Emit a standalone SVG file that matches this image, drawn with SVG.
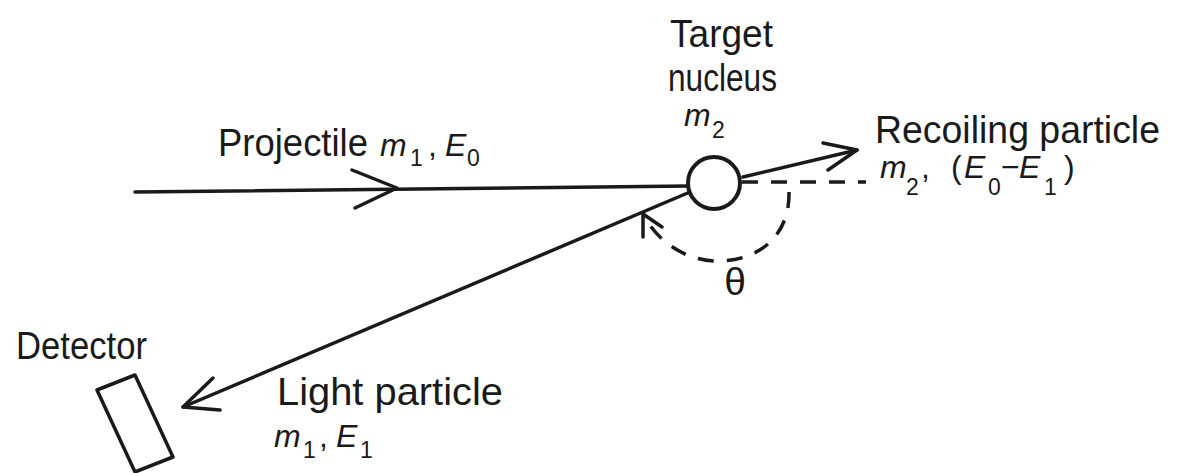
<svg xmlns="http://www.w3.org/2000/svg" width="1180" height="473" viewBox="0 0 1180 473">
<style>
.t{font-family:"Liberation Sans",Arial,sans-serif;font-size:39px;fill:#1a1a1a}
.m{font-family:"Liberation Sans",Arial,sans-serif;font-size:32px;font-style:italic;fill:#1a1a1a}
.s{font-family:"Liberation Sans",Arial,sans-serif;font-size:23px;font-style:normal;fill:#1a1a1a}
.ln{stroke:#1a1a1a;stroke-width:3.5;fill:none;stroke-linecap:round;stroke-linejoin:round}
.dash{stroke:#1a1a1a;stroke-width:3.5;fill:none;stroke-dasharray:16 13}
</style>
<rect width="1180" height="473" fill="#ffffff"/>
<g id="connectors">
  <path class="ln" d="M135 192 L688 186"/>
  <path class="ln" d="M352 170 L397 188 L355 208"/>
  <path class="ln" d="M690 192 L183 407"/>
  <path class="ln" d="M213 378 L183 407 L220 410"/>
  <path class="ln" d="M743 177 L857 150"/>
  <path class="ln" d="M823 143 L857 150 L828 170"/>
  <path class="dash" d="M742 182 L866 182"/>
  <path class="dash" d="M789 192 C790 235 760 260 720 261 C690 262 660 245 644 216"/>
  <path class="ln" d="M662 227 L643 214 L643 237"/>
</g>
<g id="target">
  <circle cx="714" cy="183" r="26" fill="#ffffff" stroke="#1a1a1a" stroke-width="4"/>
  <text class="t" x="670" y="47" textLength="103" lengthAdjust="spacingAndGlyphs">Target</text>
  <text class="t" x="668" y="91" textLength="109" lengthAdjust="spacingAndGlyphs">nucleus</text>
  <text class="m" x="684" y="126">m<tspan class="s" x="712" y="138">2</tspan></text>
</g>
<g id="projectile">
  <text class="t" x="218" y="156" textLength="150" lengthAdjust="spacingAndGlyphs">Projectile</text>
  <text class="m" x="380" y="156">m<tspan class="s" x="410" y="166">1</tspan><tspan x="428" y="156" font-style="normal">,</tspan><tspan x="445" y="156">E</tspan><tspan class="s" x="467" y="166">0</tspan></text>
</g>
<g id="recoil">
  <text class="t" x="875" y="143" textLength="285" lengthAdjust="spacingAndGlyphs">Recoiling particle</text>
  <text class="m" x="880" y="178">m<tspan class="s" x="906" y="195">2</tspan><tspan x="921" y="178" font-style="normal">,</tspan><tspan x="951" y="178" font-style="normal">(</tspan><tspan x="964" y="178">E</tspan><tspan class="s" x="988" y="195">0</tspan><tspan x="1001" y="178" font-style="normal">−</tspan><tspan x="1019" y="178">E</tspan><tspan class="s" x="1044" y="195">1</tspan><tspan x="1064" y="178" font-style="normal">)</tspan></text>
</g>
<g id="angle">
  <text class="t" x="735" y="295" text-anchor="middle" font-size="32">θ</text>
</g>
<g id="detector">
  <polygon points="97,390 135,375 173,457 135,472" fill="#ffffff" stroke="#1a1a1a" stroke-width="3.5" stroke-linejoin="round"/>
  <text class="t" x="16" y="359" textLength="131" lengthAdjust="spacingAndGlyphs">Detector</text>
</g>
<g id="light">
  <text class="t" x="277" y="405" textLength="226" lengthAdjust="spacingAndGlyphs">Light particle</text>
  <text class="m" x="274" y="447">m<tspan class="s" x="303" y="458">1</tspan><tspan x="319" y="447" font-style="normal">,</tspan><tspan x="336" y="447">E</tspan><tspan class="s" x="360" y="458">1</tspan></text>
</g>
</svg>
